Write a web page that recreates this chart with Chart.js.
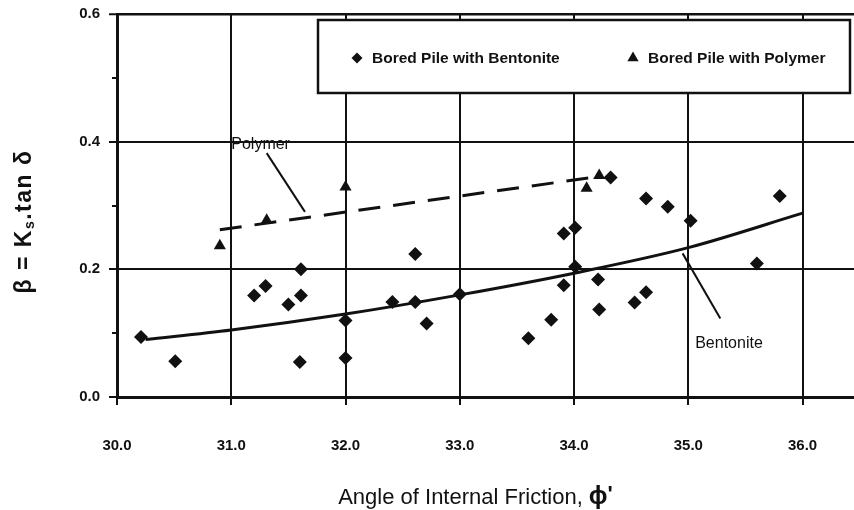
<!DOCTYPE html>
<html>
<head>
<meta charset="utf-8">
<script src="https://cdn.jsdelivr.net/npm/chart.js@4.4.1/dist/chart.umd.min.js"></script>
<style>
  html, body { margin: 0; padding: 0; background: #fff; }
  #wrap { width: 854px; height: 510px; }
</style>
</head>
<body>
<div id="wrap"><canvas id="c" width="854" height="510"></canvas></div>
<script>
// Axis ticks
const xTicks = [30, 31, 32, 33, 34, 35, 36];
const yTicks = [0, 0.1, 0.2, 0.3, 0.4, 0.5, 0.6];

// Measured pile data: friction angle phi' (deg) vs beta = Ks.tan(delta)
const bentonitePhi  = [30.21, 30.51, 31.20, 31.30, 31.50, 31.61, 31.61, 31.60, 32.00, 32.00,
                       32.41, 32.61, 32.61, 32.71, 33.00, 33.60, 33.80, 33.91, 34.01, 33.91,
                       34.01, 34.21, 34.22, 34.32, 34.53, 34.63, 34.63, 34.82, 35.02, 35.60, 35.80];
const bentoniteBeta = [0.094, 0.056, 0.159, 0.174, 0.145, 0.159, 0.200, 0.055, 0.120, 0.061,
                       0.149, 0.224, 0.149, 0.115, 0.161, 0.092, 0.121, 0.256, 0.265, 0.175,
                       0.204, 0.184, 0.137, 0.344, 0.148, 0.164, 0.311, 0.298, 0.276, 0.209, 0.315];
const polymerPhi  = [30.90, 31.31, 32.00, 34.11, 34.22];
const polymerBeta = [0.237, 0.277, 0.329, 0.327, 0.347];

// Trend lines
const bentoniteFitPhi  = [30.25, 31.0, 32.0, 33.0, 34.0, 35.0, 36.0];
const bentoniteFitBeta = [0.090, 0.105, 0.130, 0.160, 0.194, 0.234, 0.288];
const polymerFitPhi  = [30.9, 34.2];
const polymerFitBeta = [0.262, 0.345];

// Leader lines and their curve labels
const polymerLeaderPhi  = [31.31, 31.645];
const polymerLeaderBeta = [0.382, 0.290];
const bentoniteLeaderPhi  = [34.95, 35.28];
const bentoniteLeaderBeta = [0.225, 0.123];
const curveLabels = ['Polymer', 'Bentonite'];
const curveLabelPhi  = [31.0, 35.06];
const curveLabelBeta = [0.396, 0.083];

const seriesNames = ['Bored Pile with Bentonite', 'Bored Pile with Polymer'];

const INK = '#111';
const FONT = '"Liberation Sans", Arial, sans-serif';
Chart.defaults.font.family = FONT;
Chart.defaults.color = INK;

const pts = (xs, ys) => xs.map((v, i) => ({ x: v, y: ys[i] }));
const isMajorY = v => Math.round(v * 10) % 2 === 0;

// draws a run of differently styled text pieces, centred on (0,0) of the current transform
function drawRuns(ctx, runs, spacing) {
  ctx.letterSpacing = spacing + 'px';
  let total = 0;
  runs.forEach(r => { ctx.font = r.font; r.w = ctx.measureText(r.text).width; total += r.w; });
  let x = -total / 2;
  runs.forEach(r => {
    ctx.font = r.font;
    ctx.fillText(r.text, x, r.dy || 0);
    x += r.w;
  });
  ctx.letterSpacing = '0px';
}

const annotate = {
  id: 'annotate',
  afterDatasetsDraw(chart) {
    const { ctx, scales: { x, y } } = chart;
    ctx.save();
    ctx.fillStyle = INK;
    ctx.font = '16px ' + FONT;
    ctx.textAlign = 'left';
    ctx.textBaseline = 'middle';
    curveLabels.forEach((t, i) => {
      ctx.fillText(t, x.getPixelForValue(curveLabelPhi[i]), y.getPixelForValue(curveLabelBeta[i]));
    });
    ctx.restore();
  },
  afterDraw(chart) {
    const { ctx, chartArea: ca, scales: { y } } = chart;
    const ds = chart.data.datasets;

    // short minor ticks on the beta axis
    ctx.save();
    ctx.strokeStyle = INK;
    ctx.lineWidth = 2;
    yTicks.filter(v => !isMajorY(v)).forEach(v => {
      const py = Math.round(y.getPixelForValue(v));
      ctx.beginPath();
      ctx.moveTo(ca.left - 5, py);
      ctx.lineTo(ca.left, py);
      ctx.stroke();
    });
    ctx.restore();

    ctx.save();
    // legend frame
    ctx.fillStyle = '#fff';
    ctx.strokeStyle = INK;
    ctx.lineWidth = 2.5;
    ctx.fillRect(318, 20, 532, 73);
    ctx.strokeRect(318, 20, 532, 73);
    // legend entries
    const items = [
      { ds: ds[0], mx: 357, tx: 372, r: 5.5 },
      { ds: ds[1], mx: 633, tx: 648, r: 6.5 }
    ];
    ctx.font = 'bold 15.5px ' + FONT;
    ctx.textAlign = 'left';
    ctx.textBaseline = 'middle';
    items.forEach(it => {
      ctx.fillStyle = INK;
      ctx.strokeStyle = INK;
      Chart.helpers.drawPoint(ctx, { pointStyle: it.ds.pointStyle, radius: it.r, rotation: 0, borderWidth: 0 }, it.mx, 58);
      ctx.fillStyle = INK;
      ctx.fillText(it.ds.label, it.tx, 59);
    });
    ctx.restore();

    // axis titles
    ctx.save();
    ctx.fillStyle = INK;
    ctx.textAlign = 'left';
    ctx.textBaseline = 'middle';
    ctx.translate(25, (ca.top + ca.bottom) / 2 + 16);
    ctx.rotate(-Math.PI / 2);
    drawRuns(ctx, [
      { text: '\u03B2 = K', font: 'bold 23px ' + FONT },
      { text: 's', font: 'bold 14px ' + FONT, dy: 5 },
      { text: '.tan \u03B4', font: 'bold 23px ' + FONT }
    ], 1.5);
    ctx.restore();

    ctx.save();
    ctx.fillStyle = INK;
    ctx.textAlign = 'left';
    ctx.textBaseline = 'middle';
    ctx.translate((ca.left + ca.right) / 2 - 10, 498);
    drawRuns(ctx, [
      { text: 'Angle of Internal Friction, ', font: '22px ' + FONT },
      { text: '\u03D5', font: 'bold 25px ' + FONT, dy: -1 },
      { text: "'", font: 'bold 22px ' + FONT, dy: -3 }
    ], 0);
    ctx.restore();
  }
};

new Chart(document.getElementById('c'), {
  type: 'scatter',
  data: {
    datasets: [
      {
        label: seriesNames[0],
        data: pts(bentonitePhi, bentoniteBeta),
        pointStyle: 'rectRot',
        pointRadius: 7,
        backgroundColor: INK,
        borderColor: INK,
        borderWidth: 0,
        order: 1
      },
      {
        label: seriesNames[1],
        data: pts(polymerPhi, polymerBeta),
        pointStyle: 'triangle',
        pointRadius: 7,
        backgroundColor: INK,
        borderColor: INK,
        borderWidth: 0,
        order: 1
      },
      {
        label: 'Bentonite',
        data: pts(bentoniteFitPhi, bentoniteFitBeta),
        showLine: true,
        pointRadius: 0,
        borderColor: INK,
        borderWidth: 3,
        cubicInterpolationMode: 'monotone',
        order: 2
      },
      {
        label: 'Polymer',
        data: pts(polymerFitPhi, polymerFitBeta),
        showLine: true,
        pointRadius: 0,
        borderColor: INK,
        borderWidth: 3,
        borderDash: [22, 13],
        order: 2
      },
      {
        label: 'Polymer leader',
        data: pts(polymerLeaderPhi, polymerLeaderBeta),
        showLine: true,
        pointRadius: 0,
        borderColor: INK,
        borderWidth: 2,
        order: 2
      },
      {
        label: 'Bentonite leader',
        data: pts(bentoniteLeaderPhi, bentoniteLeaderBeta),
        showLine: true,
        pointRadius: 0,
        borderColor: INK,
        borderWidth: 2,
        order: 2
      }
    ]
  },
  options: {
    responsive: false,
    animation: false,
    layout: { autoPadding: false, padding: { top: 14, right: 0, bottom: 0, left: 0 } },
    plugins: {
      legend: { display: false },
      tooltip: { enabled: false }
    },
    scales: {
      x: {
        type: 'linear',
        min: 30,
        max: 36.45,
        afterBuildTicks: s => { s.ticks = xTicks.map(v => ({ value: v })); },
        afterFit: s => { s.height = 113; s.paddingLeft = 0; s.paddingRight = 0; },
        border: { color: INK, width: 3 },
        grid: { color: INK, lineWidth: 2, tickColor: INK, tickLength: 8, tickWidth: 2 },
        ticks: {
          padding: 32,
          color: INK,
          font: { size: 15, weight: 'bold' },
          maxRotation: 0,
          callback: v => Number(v).toFixed(1)
        },
        title: { display: false }
      },
      y: {
        type: 'linear',
        min: 0,
        max: 0.6,
        afterBuildTicks: s => { s.ticks = yTicks.map(v => ({ value: v })); },
        afterFit: s => { s.width = 117; s.paddingTop = 0; s.paddingBottom = 0; },
        border: { color: INK, width: 3 },
        grid: {
          color: c => (c.tick && isMajorY(c.tick.value)) ? INK : 'rgba(0,0,0,0)',
          lineWidth: c => (c.tick && Math.abs(c.tick.value - 0.6) < 1e-6) ? 2.5 : 2,
          tickColor: c => (c.tick && isMajorY(c.tick.value)) ? INK : 'rgba(0,0,0,0)',
          tickWidth: 2,
          tickLength: 8
        },
        ticks: {
          padding: 9,
          color: INK,
          font: { size: 15, weight: 'bold' },
          callback: v => isMajorY(v) ? Number(v).toFixed(1) : ''
        },
        title: { display: false }
      }
    }
  },
  plugins: [annotate]
});
</script>
</body>
</html>
